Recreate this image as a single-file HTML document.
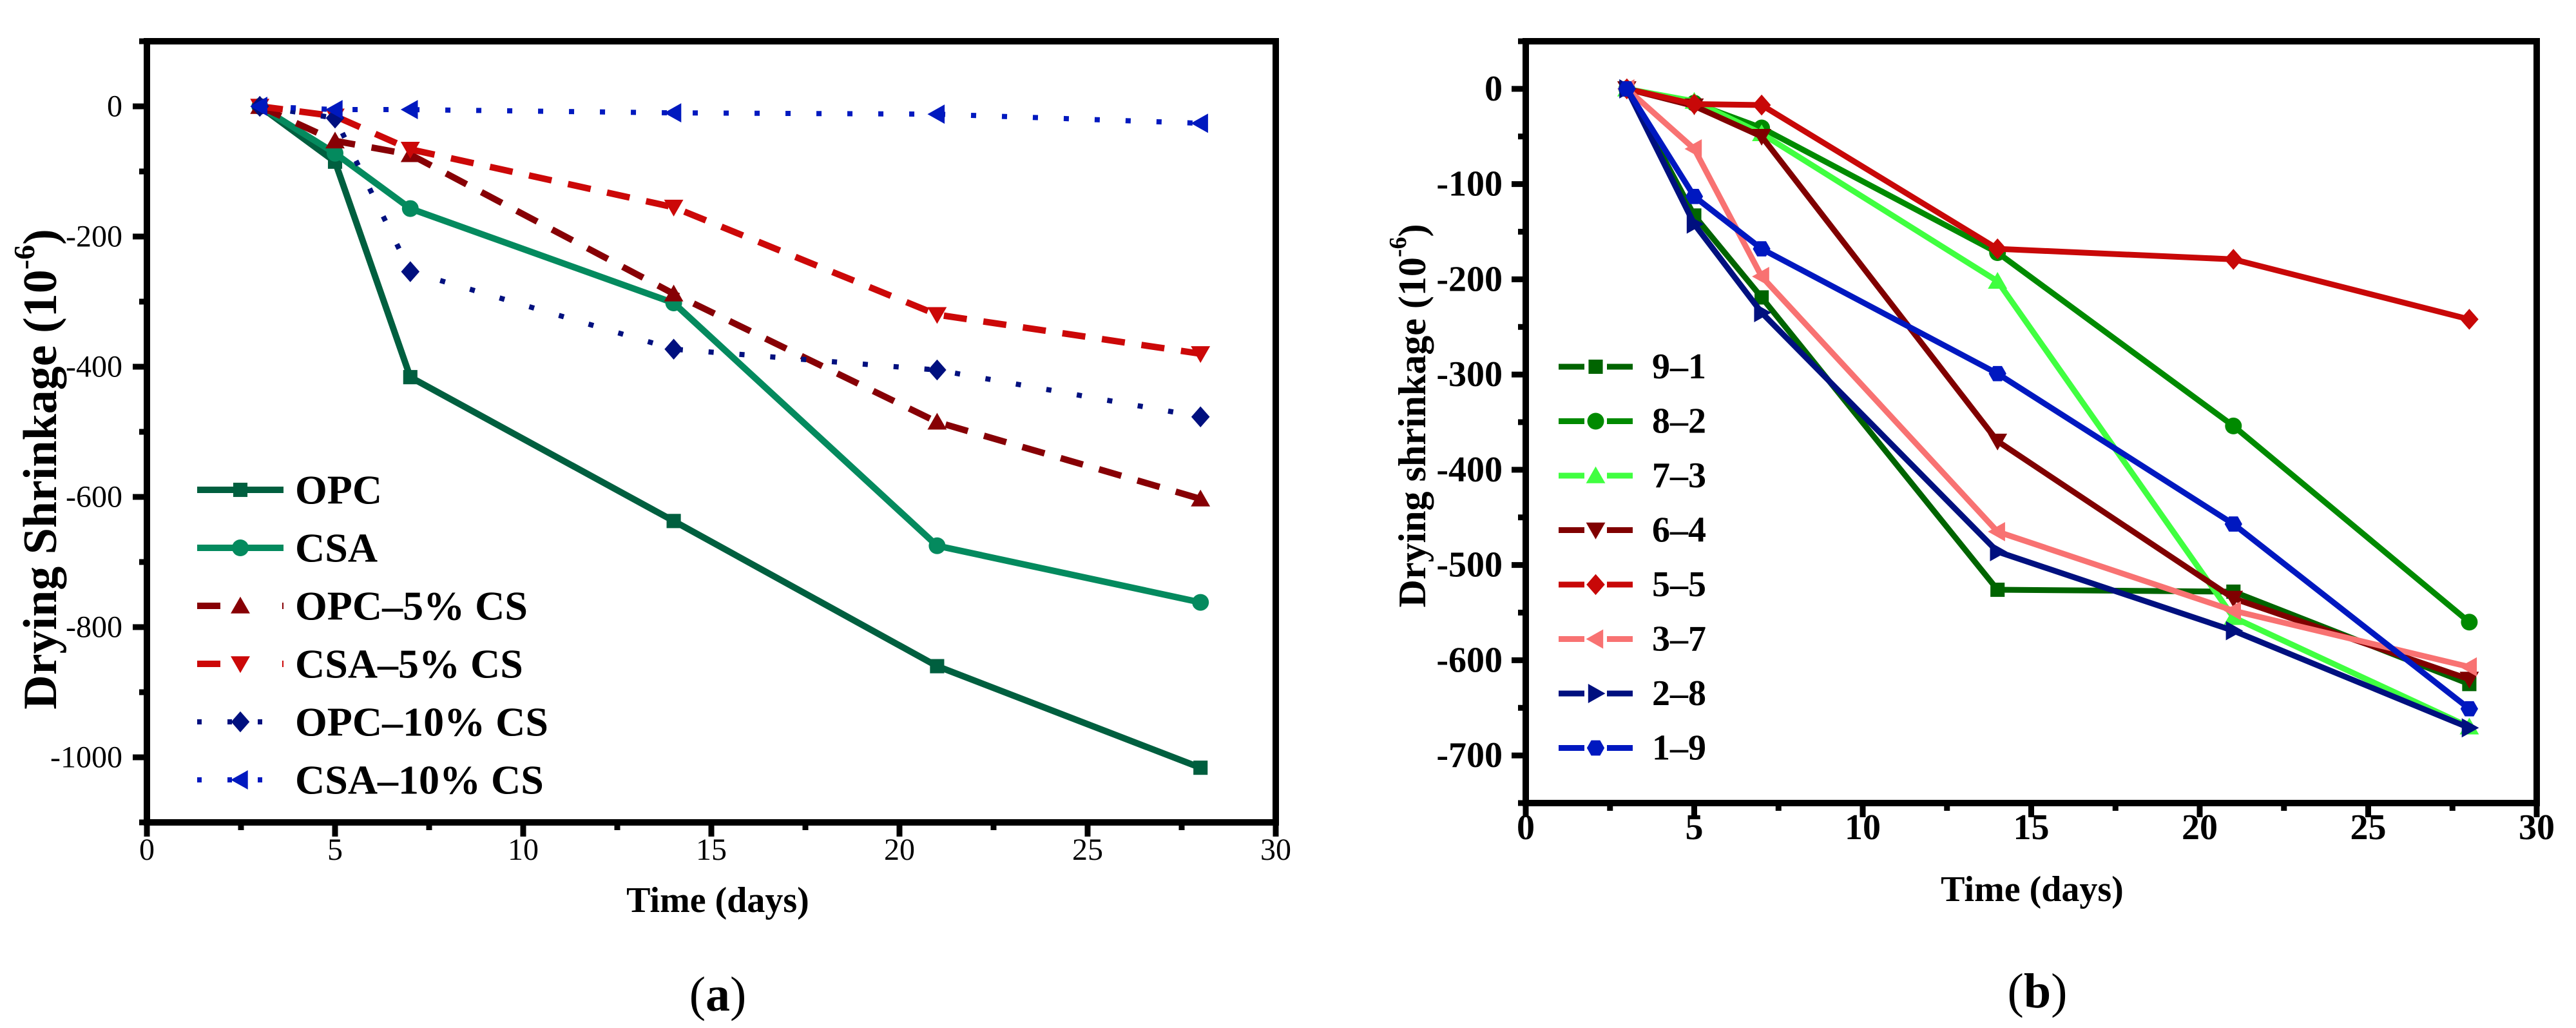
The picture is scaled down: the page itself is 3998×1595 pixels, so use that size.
<!DOCTYPE html>
<html><head><meta charset="utf-8"><style>
html,body{margin:0;padding:0;background:#fff;}
svg{display:block;font-family:"Liberation Serif",serif;}
</style></head><body>
<svg id="fig" width="3998" height="1595" viewBox="0 0 3998 1595" xmlns="http://www.w3.org/2000/svg">
<g id="chartA"></g>
<g id="chartB"></g>
</svg>
<script>
// ---- Chart (a) data ----
const daysA = [3, 5, 7, 14, 21, 28];
const namesA = ["OPC", "CSA", "OPC\u20135% CS", "CSA\u20135% CS", "OPC\u201310% CS", "CSA\u201310% CS"];
const opcA = [0, -85, -416, -637, -860, -1016];
const csaA = [0, -72, -157, -302, -675, -762];
const opc5A = [0, -53, -74, -288, -485, -603];
const csa5A = [0, -15, -66, -155, -320, -380];
const opc10A = [0, -18, -254, -373, -405, -477];
const csa10A = [0, -5, -5, -10, -12, -26];
const yTicksA = [0, -200, -400, -600, -800, -1000];
const xTicks = [0, 5, 10, 15, 20, 25, 30];

// ---- Chart (b) data ----
const daysB = [3, 5, 7, 14, 21, 28];
const namesB = ["9\u20131", "8\u20132", "7\u20133", "6\u20134", "5\u20135", "3\u20137", "2\u20138", "1\u20139"];
const s91 = [0, -133, -219, -526, -528, -625];
const s82 = [0, -15, -41, -172, -354, -560];
const s73 = [0, -13, -47, -202, -555, -670];
const s64 = [0, -18, -50, -370, -535, -620];
const s55 = [0, -16, -17, -168, -179, -242];
const s37 = [0, -63, -197, -465, -548, -607];
const s28 = [0, -142, -235, -486, -569, -671];
const s19 = [0, -113, -168, -299, -457, -651];
const yTicksB = [0, -100, -200, -300, -400, -500, -600, -700];

const NS = "http://www.w3.org/2000/svg";
function mk(tag, attrs, parent){
  const e = document.createElementNS(NS, tag);
  for (const k in attrs) e.setAttribute(k, attrs[k]);
  parent.appendChild(e);
  return e;
}
function marker(g, shape, cx, cy, r, color){
  let e;
  if (shape === "square") e = mk("rect", {x:cx-r*0.85, y:cy-r*0.85, width:r*1.7, height:r*1.7, fill:color}, g);
  else if (shape === "circle") e = mk("circle", {cx:cx, cy:cy, r:r, fill:color}, g);
  else if (shape === "up") e = mk("polygon", {points:`${cx},${cy-r*1.1} ${cx+r*1.15},${cy+r*0.9} ${cx-r*1.15},${cy+r*0.9}`, fill:color}, g);
  else if (shape === "down") e = mk("polygon", {points:`${cx},${cy+r*1.1} ${cx+r*1.15},${cy-r*0.9} ${cx-r*1.15},${cy-r*0.9}`, fill:color}, g);
  else if (shape === "diamond") e = mk("polygon", {points:`${cx},${cy-r*1.25} ${cx+r*1.1},${cy} ${cx},${cy+r*1.25} ${cx-r*1.1},${cy}`, fill:color}, g);
  else if (shape === "left") e = mk("polygon", {points:`${cx-r*1.15},${cy} ${cx+r*0.9},${cy-r*1.15} ${cx+r*0.9},${cy+r*1.15}`, fill:color}, g);
  else if (shape === "right") e = mk("polygon", {points:`${cx+r*1.15},${cy} ${cx-r*0.9},${cy-r*1.15} ${cx-r*0.9},${cy+r*1.15}`, fill:color}, g);
  else if (shape === "hex") {
    let p = [];
    for (let i=0;i<6;i++){ const a = Math.PI/3*i; p.push((cx+r*1.05*Math.cos(a))+","+(cy+r*1.05*Math.sin(a))); }
    e = mk("polygon", {points:p.join(" "), fill:color}, g);
  }
  return e;
}

function drawChart(root, cfg){
  const L=cfg.L, R=cfg.R, T=cfg.T, B=cfg.B;
  const sx = v => L + (v - cfg.xmin)/(cfg.xmax - cfg.xmin)*(R-L);
  const sy = v => T + (cfg.ymax - v)/(cfg.ymax - cfg.ymin)*(B-T);
  const tg = mk("g", {}, root);
  
  
  for (let v=cfg.xmin; v<=cfg.xmax+1e-6; v+=2.5){
    const major = Math.abs(v/5 - Math.round(v/5))<1e-6;
    mk("line", {x1:sx(v), x2:sx(v), y1:B, y2:B+(major?22:12), stroke:"#000", "stroke-width":9}, tg);
  }
  for (const v of xTicks){
    const t = mk("text", {x:sx(v), y:B+cfg.xlabDy, "text-anchor":"middle", "font-size":cfg.tickFs, "font-weight":cfg.tickFw}, tg);
    t.textContent = v;
    
    
  }
  for (let v=cfg.ymin; v<=cfg.ymax+1e-6; v+=cfg.yminor){
    const major = Math.abs(v/cfg.ymajor - Math.round(v/cfg.ymajor))<1e-6;
    mk("line", {x1:L, x2:L-(major?22:12), y1:sy(v), y2:sy(v), stroke:"#000", "stroke-width":9}, tg);
  }
  for (const v of cfg.yTicks){
    const t = mk("text", {x:L-cfg.ylabDx, y:sy(v), "text-anchor":"end", "dominant-baseline":"central", "font-size":cfg.tickFs, "font-weight":cfg.tickFw}, tg);
    t.textContent = v;
    
    
  }
  cfg.series.forEach((s, i) => {
    const g = mk("g", {}, root);
    
    
    const pts = cfg.days.map((d, j) => sx(d)+","+sy(s.vals[j])).join(" ");
    const pl = mk("polyline", {points:pts, fill:"none", stroke:s.color, "stroke-width":s.w, "stroke-linejoin":"miter", "stroke-dasharray":s.dash||"none"}, g);
    
    
    cfg.days.forEach((d, j) => {
      const m = marker(g, s.shape, sx(d), sy(s.vals[j]), cfg.mr, s.color);
      
      
    });
    const lg = mk("g", {}, root);
    
    
    const ly = cfg.legY + i*cfg.legDy;
    mk("line", {x1:cfg.legX1, x2:cfg.legX2, y1:ly, y2:ly, stroke:s.color, "stroke-width":s.w, "stroke-dasharray":s.legDash||"none"}, lg);
    marker(lg, s.shape, (cfg.legX1+cfg.legX2)/2, ly, cfg.mr, s.color);
    const lt = mk("text", {x:cfg.legTx, y:ly, "dominant-baseline":"central", "font-size":cfg.legFs, "font-weight":"bold"}, lg);
    lt.textContent = s.name;
  });
  const fr = mk("rect", {x:L, y:T, width:R-L, height:B-T, fill:"none", stroke:"#000", "stroke-width":10}, root);
  
  
}

const dashed = "36 26", dotted = "8 40";
drawChart(document.getElementById("chartA"), {
  id:"chart-a", L:228, R:1980, T:64, B:1276, xmin:0, xmax:30, ymin:-1100, ymax:100,
  ymajor:200, yminor:100, yTicks:yTicksA, days:daysA, tickFs:48, tickFw:"normal", xlabDy:58, ylabDx:38, mr:13,
  legY:760, legDy:90, legX1:306, legX2:440, legTx:458, legFs:64,
  series:[
    {name:namesA[0], vals:opcA, color:"#005f3f", w:10, shape:"square"},
    {name:namesA[1], vals:csaA, color:"#048a5e", w:10, shape:"circle"},
    {name:namesA[2], vals:opc5A, color:"#870005", w:10, shape:"up", dash:dashed, legDash:"36 96 36"},
    {name:namesA[3], vals:csa5A, color:"#cc0808", w:10, shape:"down", dash:dashed, legDash:"36 96 36"},
    {name:namesA[4], vals:opc10A, color:"#00107f", w:8, shape:"diamond", dash:dotted, legDash:"7 40"},
    {name:namesA[5], vals:csa10A, color:"#0019bf", w:8, shape:"left", dash:dotted, legDash:"7 40"}
  ]
});
drawChart(document.getElementById("chartB"), {
  id:"chart-b", L:2368, R:3937, T:64, B:1246, xmin:0, xmax:30, ymin:-750, ymax:50,
  ymajor:100, yminor:50, yTicks:yTicksB, days:daysB, tickFs:56, tickFw:"bold", xlabDy:56, ylabDx:36, mr:13,
  legY:569, legDy:84.5, legX1:2419, legX2:2534, legTx:2564, legFs:56,
  series:[
    {name:namesB[0], vals:s91, color:"#006400", w:9, shape:"square", legDash:"40 35 40"},
    {name:namesB[1], vals:s82, color:"#008a00", w:9, shape:"circle", legDash:"40 35 40"},
    {name:namesB[2], vals:s73, color:"#40ff40", w:9, shape:"up", legDash:"40 35 40"},
    {name:namesB[3], vals:s64, color:"#800000", w:9, shape:"down", legDash:"40 35 40"},
    {name:namesB[4], vals:s55, color:"#c80808", w:9, shape:"diamond", legDash:"40 35 40"},
    {name:namesB[5], vals:s37, color:"#f87272", w:9, shape:"left", legDash:"40 35 40"},
    {name:namesB[6], vals:s28, color:"#00107f", w:9, shape:"right", legDash:"40 35 40"},
    {name:namesB[7], vals:s19, color:"#0018c0", w:9, shape:"hex", legDash:"40 35 40"}
  ]
});
</script>
<div style="position:absolute;left:0;top:0;width:3998px;height:1595px;pointer-events:none">
<svg width="3998" height="1595" viewBox="0 0 3998 1595" style="font-family:'Liberation Serif',serif">
  <text x="1114" y="1397" text-anchor="middle" dominant-baseline="central" font-size="56" font-weight="bold">Time (days)</text>
  <text x="1114" y="1543" text-anchor="middle" dominant-baseline="central" font-size="76">(<tspan font-weight="bold">a</tspan>)</text>
  <text transform="translate(63,728) rotate(-90)" text-anchor="middle" dominant-baseline="central" font-size="74" font-weight="bold">Drying Shrinkage (10<tspan dy="-26" font-size="46">-6</tspan><tspan dy="26">)</tspan></text>
  <text x="3154" y="1380" text-anchor="middle" dominant-baseline="central" font-size="56" font-weight="bold">Time (days)</text>
  <text x="3162" y="1538" text-anchor="middle" dominant-baseline="central" font-size="76">(<tspan font-weight="bold">b</tspan>)</text>
  <text transform="translate(2192,645) rotate(-90)" text-anchor="middle" dominant-baseline="central" font-size="60" font-weight="bold">Drying shrinkage (10<tspan dy="-22" font-size="38">-6</tspan><tspan dy="22">)</tspan></text>
</svg>
</div>
</body></html>
